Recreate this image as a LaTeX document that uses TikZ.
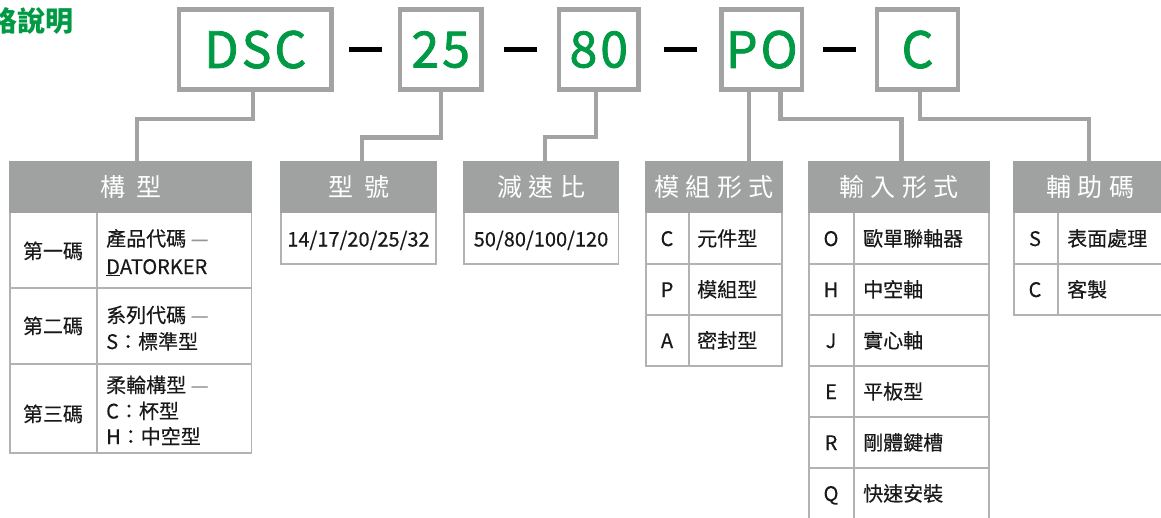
\documentclass[tikz,border=0pt]{standalone}
\usepackage{fontspec}
\setmainfont{Noto Sans CJK TC}
\newfontfamily\codefont[FakeBold=1.6]{Noto Sans CJK TC}
\newfontfamily\cellfont[FakeBold=0.4]{Noto Sans CJK TC}
\usetikzlibrary{calc}
\definecolor{codegreen}{RGB}{0,154,68}
\definecolor{boxgray}{RGB}{163,163,163}
\definecolor{hdrgray}{RGB}{160,161,161}
\definecolor{gridgray}{RGB}{178,178,178}
\definecolor{txt}{RGB}{25,25,25}
\definecolor{dashgray}{RGB}{150,150,150}
\newcommand\hgap{\hspace{6.5pt}}
\newcommand\hwide{\hspace{11pt}}
\newcommand\cg{\hspace{3pt}}
\tikzset{
  codebox/.style={draw=boxgray, line width=4.6pt, fill=white, inner sep=0pt,
    minimum height=80pt, text=codegreen, font=\codefont\fontsize{50}{56}\selectfont},
  conn/.style={draw=boxgray, line width=4.6pt},
  sepdash/.style={draw=black, line width=5pt},
  hdr/.style={fill=hdrgray, inner sep=0pt, minimum height=51.5pt, text=white,
    font=\fontsize{25}{29}\selectfont},
  gridl/.style={draw=gridgray, line width=1.6pt},
  cellw/.style={font=\cellfont\fontsize{20}{24}\selectfont, text=txt, inner sep=0pt, anchor=base west},
  cellc/.style={font=\cellfont\fontsize{20}{24}\selectfont, text=txt, inner sep=0pt, anchor=base},
  titletxt/.style={font=\fontsize{28}{32}\selectfont\bfseries, text=codegreen, inner sep=0pt, anchor=base east}
}
\begin{document}
\begin{tikzpicture}[x=1pt,y=-1pt]
\useasboundingbox (0,0) rectangle (1161,517);
% title
\node[titletxt] (title) at (74,31) {規格說明};
% code boxes
\node[codebox, minimum width=152.6pt] (dsc) at (255.3,49.6) {D\cg S\cg C};
\node[codebox, minimum width=81.8pt] (b25) at (440.7,49.6) {2\cg 5};
\node[codebox, minimum width=79.6pt] (b80) at (598.8,49.6) {8\cg 0};
\node[codebox, minimum width=80.3pt] (bpo) at (761.8,49.6) {P\cg O};
\node[codebox, minimum width=81pt] (bc) at (917.5,49.6) {C};
% separators
\draw[sepdash] ($($(dsc.east)!0.5!(b25.west)$)+(-16.5,-0.5)$) -- ++(33,0);
\draw[sepdash] ($($(b25.east)!0.5!(b80.west)$)+(-16.5,-0.5)$) -- ++(33,0);
\draw[sepdash] ($($(b80.east)!0.5!(bpo.west)$)+(-16.5,-0.5)$) -- ++(33,0);
\draw[sepdash] ($($(bpo.east)!0.5!(bc.west)$)+(-16.5,-0.5)$) -- ++(33,0);
% tables grids
\draw[gridl] (10,212.5) rectangle (251.3,453);
\draw[gridl] (97,212.5) -- (97,453);
\draw[gridl] (10,288) -- (251.3,288);
\draw[gridl] (10,364) -- (251.3,364);
\draw[gridl] (280.8,212.5) rectangle (436.2,264);
\draw[gridl] (463.8,212.5) rectangle (618.5,264);
\draw[gridl] (645.8,212.5) rectangle (782.2,366);
\draw[gridl] (689,212.5) -- (689,366);
\draw[gridl] (645.8,264) -- (782.2,264);
\draw[gridl] (645.8,315) -- (782.2,315);
\draw[gridl] (808.8,212.5) rectangle (989.2,519);
\draw[gridl] (854,212.5) -- (854,519);
\foreach \yy in {264,315,366,417,468}{\draw[gridl] (808.8,\yy) -- (989.2,\yy);}
\draw[gridl] (1013.8,212.5) rectangle (1175,315);
\draw[gridl] (1058,212.5) -- (1058,315);
\draw[gridl] (1013.8,264) -- (1175,264);
% headers
\node[hdr, minimum width=243pt] (hd1) at (130.5,186.75) {構\hwide 型};
\node[hdr, minimum width=157pt] (hd2) at (358.5,186.75) {型\hwide 號};
\node[hdr, minimum width=156pt] (hd3) at (541,186.75) {減\hgap 速\hgap 比};
\node[hdr, minimum width=138pt] (hd4) at (714,186.75) {模\hgap 組\hgap 形\hgap 式};
\node[hdr, minimum width=182pt] (hd5) at (899,186.75) {輸\hgap 入\hgap 形\hgap 式};
\node[hdr, minimum width=154pt] (hd6) at (1090,186.75) {輔\hgap 助\hgap 碼};
% connectors
\draw[conn] ([xshift=-2.3pt]dsc.south) -- ++(0,27) -| ([xshift=6.5pt]hd1.north);
\draw[conn] ([xshift=0.3pt]b25.south) -- ++(0,45.5) -| ([xshift=3.5pt]hd2.north);
\draw[conn] ([xshift=-2.8pt]b80.south) -- ++(0,45) -| ([xshift=4pt]hd3.north);
\draw[conn] ([xshift=-12.8pt]bpo.south) -- ([xshift=35pt]hd4.north);
\draw[conn] ([xshift=18.7pt]bpo.south) -- ++(0,27) -| ([xshift=2.5pt]hd5.north);
\draw[conn] ([xshift=2.5pt]bc.south) -- ++(0,27) -| ([xshift=-1pt]hd6.north);
% table 1 text
\node[cellc] (t1a) at (53,258.5) {第一碼};
\node[cellc] (t1b) at (53,333.5) {第二碼};
\node[cellc] (t1c) at (53,421.5) {第三碼};
\node[cellw] (t1a1) at (106,246) {產品代碼 {\color{dashgray}—}};
\node[cellw] (t1a2) at (106,274) {\underline{D}ATORKER};
\node[cellw] (t1b1) at (106,322.5) {系列代碼 {\color{dashgray}—}};
\node[cellw] (t1b2) at (106,349) {S：標準型};
\node[cellw] (t1c1) at (106,392.5) {柔輪構型 {\color{dashgray}—}};
\node[cellw] (t1c2) at (106,418.5) {C：杯型};
\node[cellw] (t1c3) at (106,444) {H：中空型};
% tables 2,3
\node[cellc] (t2) at (358.5,246.5) {14/17/20/25/32};
\node[cellc] (t3) at (541,246.5) {50/80/100/120};
% table 4
\node[cellc] (t4k1) at (667,246) {C};
\node[cellw] (t4v1) at (697,246) {元件型};
\node[cellc] (t4k2) at (667,297) {P};
\node[cellw] (t4v2) at (697,297) {模組型};
\node[cellc] (t4k3) at (667,348) {A};
\node[cellw] (t4v3) at (697,348) {密封型};
% table 5
\node[cellc] (t5k1) at (831,246) {O};
\node[cellw] (t5v1) at (863,246) {歐單聯軸器};
\node[cellc] (t5k2) at (831,297) {H};
\node[cellw] (t5v2) at (863,297) {中空軸};
\node[cellc] (t5k3) at (831,348) {J};
\node[cellw] (t5v3) at (863,348) {實心軸};
\node[cellc] (t5k4) at (831,399) {E};
\node[cellw] (t5v4) at (863,399) {平板型};
\node[cellc] (t5k5) at (831,450) {R};
\node[cellw] (t5v5) at (863,450) {剛體鍵槽};
\node[cellc] (t5k6) at (831,501) {Q};
\node[cellw] (t5v6) at (863,501) {快速安裝};
% table 6
\node[cellc] (t6k1) at (1035,246) {S};
\node[cellw] (t6v1) at (1067,246) {表面處理};
\node[cellc] (t6k2) at (1035,297) {C};
\node[cellw] (t6v2) at (1067,297) {客製};
\end{tikzpicture}
\end{document}
